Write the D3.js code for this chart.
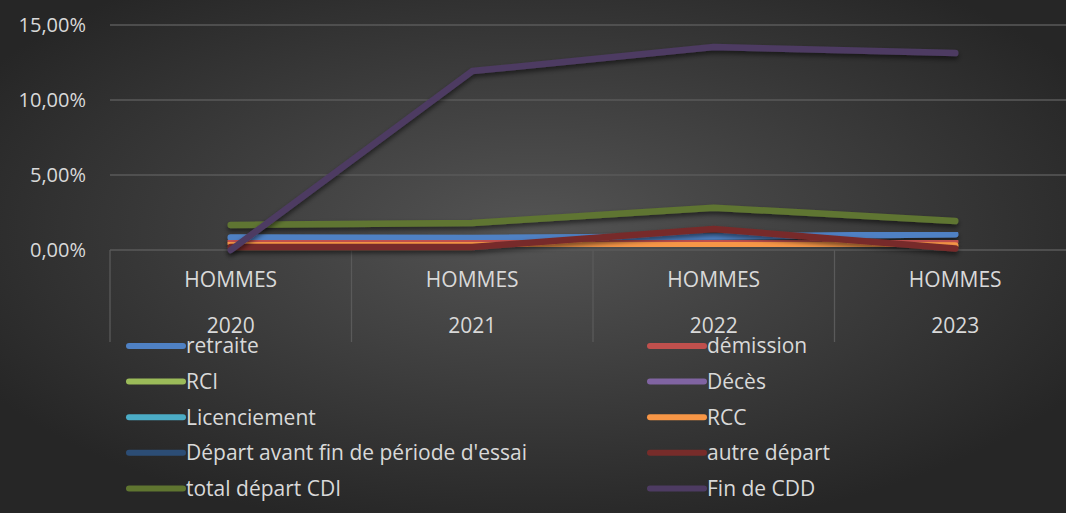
<!DOCTYPE html>
<html>
<head>
<meta charset="utf-8">
<title>Départs</title>
<script src="https://d3js.org/d3.v7.min.js"></script>
<style>
  html, body { margin: 0; padding: 0; background: #2b2b2b; }
  text { font-family: "Open Sans", sans-serif; fill: #d9d9d9; }
</style>
</head>
<body>
<div id="chart"></div>
<script>
// categories (two-level axis)
var years = ["2020", "2021", "2022", "2023"];
var group = "HOMMES";

// series, values in %
var seriesNames = ["retraite", "démission", "RCI", "Décès", "Licenciement", "RCC",
  "Départ avant fin de période d'essai", "autre départ", "total départ CDI", "Fin de CDD"];
var retraite   = [0.83, 0.80, 0.90, 1.05];
var demission  = [0.60, 0.55, 0.55, 0.55];
var rci        = [0, 0, 0, 0];
var deces      = [0, 0, 0, 0];
var licenc     = [0.40, 0.40, 0.40, 0.40];
var rcc        = [0.45, 0.40, 0.35, 0.30];
var avantFin   = [0.05, 0.05, 0.05, 0.05];
var autre      = [0.20, 0.20, 1.40, 0.10];
var totalCDI   = [1.67, 1.80, 2.82, 1.93];
var finCDD     = [0.00, 11.93, 13.53, 13.13];
var colors = ["#4f81c4", "#c0504d", "#9bbb59", "#8064a2", "#4bacc6", "#f79646",
  "#2c4d75", "#772c2a", "#5f7530", "#4d3b62"];
var yTicks = [0, 5, 10, 15];

var series = [retraite, demission, rci, deces, licenc, rcc, avantFin, autre, totalCDI, finCDD];

var W = 1066, H = 513;
var margin = {top: 25, left: 110, right: -10, bottom: 263};
var width = W - margin.left - margin.right;
var height = H - margin.top - margin.bottom;

var svg = d3.select("#chart").append("svg")
  .attr("width", W).attr("height", H);

var defs = svg.append("defs");
var grad = defs.append("radialGradient").attr("id", "bg")
  .attr("cx", "50%").attr("cy", "45%").attr("r", "60%");
grad.append("stop").attr("offset", "0%").attr("stop-color", "#545454");
grad.append("stop").attr("offset", "100%").attr("stop-color", "#262626");

var sh = defs.append("filter").attr("id", "shadow")
  .attr("x", "-10%").attr("y", "-50%").attr("width", "120%").attr("height", "200%");
sh.append("feDropShadow").attr("dx", 0).attr("dy", 3).attr("stdDeviation", 2.5)
  .attr("flood-color", "#000").attr("flood-opacity", 0.55);

svg.append("rect").attr("width", W).attr("height", H).attr("fill", "url(#bg)");

var g = svg.append("g").attr("transform", "translate(" + margin.left + "," + margin.top + ")");

var x = d3.scaleBand().domain(years).range([0, width]);
var y = d3.scaleLinear().domain([0, 15]).range([height, 0]);

// gridlines
g.selectAll(".grid").data(yTicks).enter().append("line")
  .attr("x1", 0).attr("x2", width)
  .attr("y1", d => y(d)).attr("y2", d => y(d))
  .attr("stroke", "#5a5a5a").attr("stroke-width", 1.3);

// y labels
g.selectAll(".ylab").data(yTicks).enter().append("text")
  .attr("x", -24).attr("y", d => y(d)).attr("dy", "0.35em")
  .attr("text-anchor", "end").attr("font-size", 20)
  .text(d => d3.format(".2f")(d).replace(".", ",") + "%");

// category dividers
var divs = years.map(d => x(d)).concat([width]);
g.selectAll(".div").data(divs).enter().append("line")
  .attr("x1", d => d).attr("x2", d => d)
  .attr("y1", height).attr("y2", height + 92)
  .attr("stroke", "#5a5a5a").attr("stroke-width", 1.3);

g.selectAll(".grp").data(years).enter().append("text")
  .attr("x", d => x(d) + x.bandwidth() / 2).attr("y", height + 30).attr("dy", "0.35em")
  .attr("text-anchor", "middle").attr("font-size", 21).text(group);

g.selectAll(".yr").data(years).enter().append("text")
  .attr("x", d => x(d) + x.bandwidth() / 2).attr("y", height + 76).attr("dy", "0.35em")
  .attr("text-anchor", "middle").attr("font-size", 21).text(d => d);

// lines
var line = d3.line()
  .x((d, i) => x(years[i]) + x.bandwidth() / 2)
  .y(d => y(d));

g.selectAll(".series").data(series).enter().append("path")
  .attr("d", d => line(d))
  .attr("fill", "none")
  .attr("stroke", (d, i) => colors[i])
  .attr("stroke-width", 6.5)
  .attr("stroke-linecap", "round")
  .attr("stroke-linejoin", "round")
  .attr("filter", "url(#shadow)");

// legend
var leg = svg.append("g");
var items = leg.selectAll(".item").data(seriesNames).enter().append("g")
  .attr("transform", (d, i) => "translate(" + (i % 2 ? 648 : 127) + "," + (346 + Math.floor(i / 2) * 35.6) + ")");
items.append("line")
  .attr("x1", 2).attr("x2", 56).attr("y1", 0).attr("y2", 0)
  .attr("stroke", (d, i) => colors[i]).attr("stroke-width", 6).attr("stroke-linecap", "round");
items.append("text")
  .attr("x", 59).attr("y", 0).attr("dy", "0.35em")
  .attr("font-size", 21).text(d => d);
</script>
</body>
</html>
